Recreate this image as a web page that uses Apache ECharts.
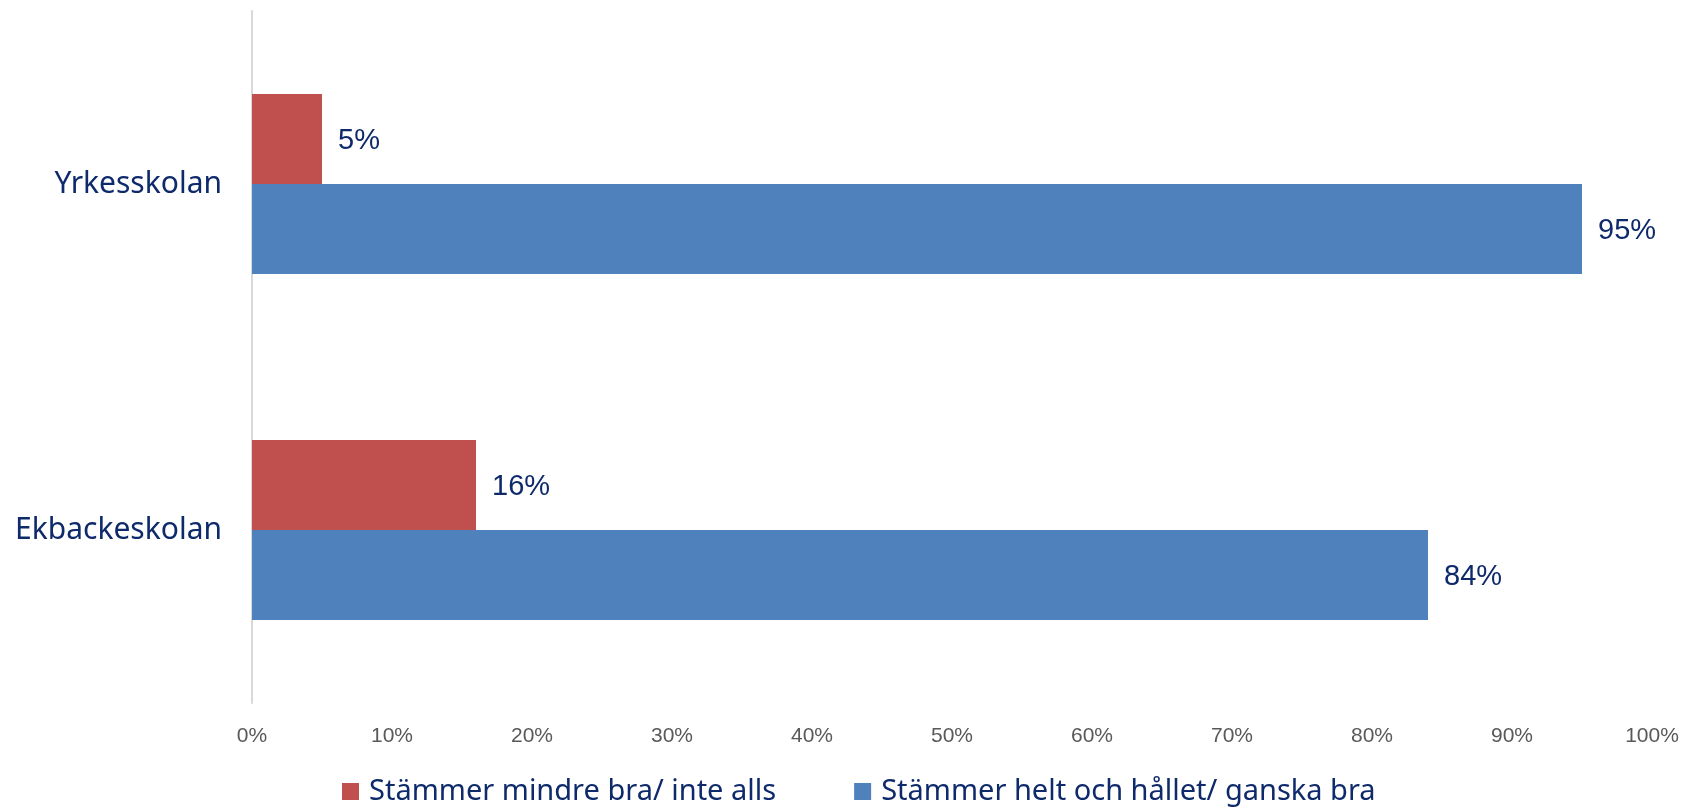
<!DOCTYPE html>
<html>
<head>
<meta charset="utf-8">
<script src="https://cdn.jsdelivr.net/npm/echarts@6/dist/echarts.min.js"></script>
<style>
  html, body { margin: 0; padding: 0; background: #fff; }
  #chart { width: 1685px; height: 807px; }
</style>
</head>
<body>
<div id="chart"></div>
<script>
// Chart data
const schools = ['Ekbackeskolan', 'Yrkesskolan'];
const seriesNames = ['Stämmer mindre bra/ inte alls', 'Stämmer helt och hållet/ ganska bra'];
const lessAgree = [16, 5];
const fullyAgree = [84, 95];

const navy = '#0E2A6B';
const textFont = '"Noto Sans", "Liberation Sans", sans-serif';
const numFont = '"Liberation Sans", Arial, sans-serif';

const chart = echarts.init(document.getElementById('chart'));

function barSeries(name, values, color) {
    return {
        name: name,
        type: 'bar',
        data: values,
        barWidth: 90,
        barGap: '0%',
        itemStyle: { color: color },
        label: {
            show: true, position: 'right', distance: 16, formatter: '{c}%',
            offset: [0, 2],
            color: navy, fontSize: 29, fontFamily: numFont
        }
    };
}

const option = {
    animation: false,
    backgroundColor: '#fff',
    grid: { left: 252, right: 33, top: 11, bottom: 104, containLabel: false },
    legend: {
        data: seriesNames,
        top: 772,
        left: 337,
        itemWidth: 17,
        itemHeight: 17,
        itemGap: 78,
        icon: 'rect',
        textStyle: { color: navy, fontSize: 29, fontFamily: textFont, padding: [0, 0, 0, 5] }
    },
    xAxis: {
        type: 'value',
        min: 0,
        max: 100,
        interval: 10,
        axisLine: { show: false },
        axisTick: { show: false },
        splitLine: { show: false },
        axisLabel: {
            formatter: '{value}%',
            color: '#595959',
            fontSize: 21,
            margin: 23,
            fontFamily: numFont
        }
    },
    yAxis: {
        type: 'category',
        data: schools,
        axisLine: { show: true, lineStyle: { color: '#D9D9D9', width: 2 } },
        axisTick: { show: false },
        axisLabel: { color: navy, fontSize: 30, margin: 30, fontFamily: textFont }
    },
    series: [
        barSeries(seriesNames[0], lessAgree, '#C0504D'),
        barSeries(seriesNames[1], fullyAgree, '#4F81BD')
    ]
};

chart.setOption(option);
</script>
</body>
</html>
